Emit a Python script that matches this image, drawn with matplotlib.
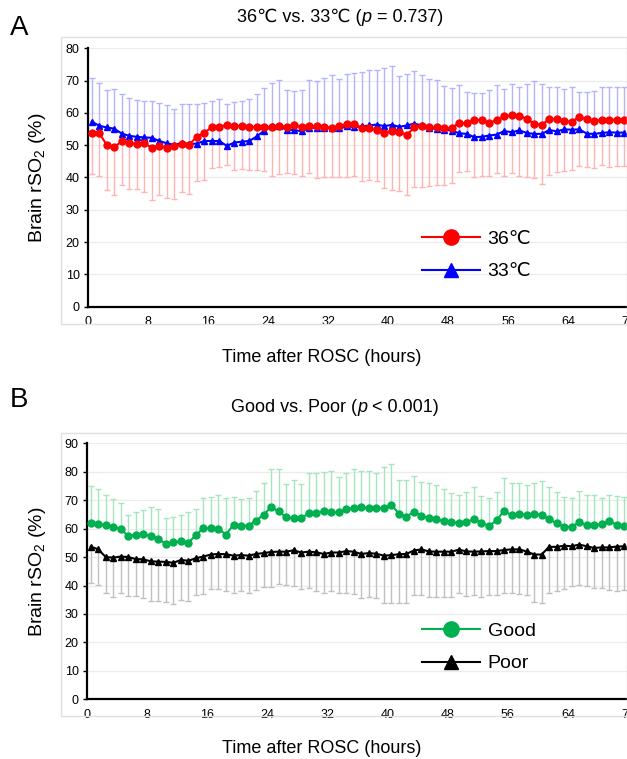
import numpy as np
import matplotlib
matplotlib.use("Agg")
import matplotlib.pyplot as plt
from matplotlib.patches import Rectangle

plt.rcParams['font.family'] = ['Liberation Sans', 'DejaVu Sans']
plt.rcParams['mathtext.fontset'] = 'custom'
plt.rcParams['mathtext.rm'] = 'Liberation Sans'
plt.rcParams['mathtext.it'] = 'Liberation Sans:italic'

# hours after ROSC (one point per hour, centred in each hour)
hours = np.arange(72) + 0.5
xticks = list(range(0, 73, 8))

# ---- Panel A: 36C vs 33C ----
t36_mean = [53.7, 53.7, 50.1, 49.4, 51.2, 50.7, 50.4, 50.6, 49.2, 49.8,
            49.2, 49.6, 50.4, 50.2, 52.6, 53.9, 55.5, 55.7, 56.3, 56.0,
            55.9, 55.5, 55.7, 55.5, 55.7, 55.9, 55.7, 56.2, 55.6, 56.0,
            55.9, 55.7, 55.4, 55.8, 56.6, 56.5, 55.2, 55.2, 54.7, 53.9,
            54.4, 54.1, 53.2, 55.5, 55.9, 55.6, 55.5, 55.2, 55.4, 56.9,
            56.8, 57.9, 57.7, 57.0, 57.7, 59.0, 59.2, 59.0, 58.2, 56.6,
            56.3, 58.1, 58.1, 57.5, 57.2, 58.8, 58.0, 57.5, 57.8, 57.9,
            57.8, 57.8]
t36_low = [41.0, 40.5, 36.0, 34.7, 37.6, 36.5, 36.3, 35.5, 33.1, 34.6,
           33.8, 33.4, 35.4, 34.9, 39.0, 39.1, 42.9, 43.4, 43.8, 42.4,
           42.7, 42.4, 42.4, 42.0, 40.5, 41.1, 41.5, 41.0, 40.6, 41.5,
           39.8, 40.0, 40.3, 40.3, 40.3, 40.6, 39.0, 39.3, 38.8, 36.6,
           36.2, 35.8, 34.6, 37.0, 37.2, 37.4, 37.8, 37.6, 38.2, 41.6,
           41.9, 40.3, 40.6, 40.6, 41.3, 40.6, 41.4, 40.6, 40.3, 39.8,
           38.0, 40.9, 41.6, 42.1, 42.4, 43.7, 43.4, 42.9, 43.9, 43.4,
           43.7, 43.5]
t33_mean = [57.3, 56.0, 55.5, 55.1, 53.6, 52.9, 52.6, 52.4, 52.3, 51.3,
            50.6, 50.1, 50.7, 50.4, 50.5, 51.3, 51.3, 51.3, 49.8, 50.8,
            51.1, 51.3, 52.7, 54.5, 55.8, 55.8, 54.8, 54.7, 54.3, 55.3,
            55.4, 55.3, 55.4, 55.2, 55.8, 55.6, 55.8, 56.1, 56.4, 55.9,
            56.3, 55.7, 56.1, 56.7, 56.1, 55.2, 55.1, 54.8, 54.5, 53.7,
            53.5, 52.5, 52.6, 53.0, 53.3, 54.4, 54.0, 54.6, 53.8, 53.5,
            53.5, 54.7, 54.3, 54.9, 54.8, 54.9, 53.6, 53.5, 53.8, 54.0,
            53.9, 53.9]
t33_high = [70.9, 69.2, 67.2, 67.4, 65.9, 64.6, 64.0, 63.7, 63.7, 63.2,
            62.5, 61.3, 62.7, 62.8, 62.7, 63.2, 63.7, 64.2, 62.9, 63.5,
            63.7, 64.4, 66.0, 67.6, 69.4, 70.1, 67.1, 66.9, 67.2, 70.2,
            70.0, 70.9, 71.6, 70.5, 72.0, 72.2, 72.8, 73.4, 73.2, 73.9,
            74.6, 71.4, 72.1, 73.0, 71.6, 70.6, 70.3, 68.2, 67.7, 68.6,
            66.4, 66.1, 66.2, 67.2, 68.6, 67.4, 68.8, 67.9, 68.8, 69.8,
            69.0, 67.9, 67.9, 67.3, 67.9, 66.4, 66.5, 66.8, 68.1, 68.1,
            68.1, 68.0]

# ---- Panel B: Good vs Poor outcome ----
good_mean = [61.9, 61.6, 61.2, 60.7, 59.8, 57.4, 57.9, 58.0, 57.4, 56.4,
             54.6, 55.2, 55.5, 55.1, 57.7, 60.2, 60.1, 60.0, 57.9, 61.4,
             60.8, 61.1, 62.8, 64.9, 67.5, 66.1, 64.0, 63.6, 63.6, 65.4,
             65.4, 66.3, 65.7, 65.7, 66.9, 67.1, 67.7, 67.1, 67.1, 67.4,
             68.4, 65.3, 64.2, 65.9, 64.5, 63.7, 63.3, 62.6, 62.3, 62.0,
             62.3, 63.3, 62.1, 60.9, 62.9, 66.3, 64.7, 65.1, 64.9, 65.3,
             64.8, 63.3, 61.9, 60.6, 60.6, 62.3, 61.2, 61.2, 61.6, 62.7,
             61.3, 61.0]
good_high = [74.9, 74.1, 72.0, 70.5, 69.0, 64.7, 65.7, 66.6, 67.5, 66.8,
             63.9, 64.1, 64.7, 66.0, 66.8, 70.7, 71.0, 71.8, 70.7, 71.0,
             70.4, 70.7, 73.4, 75.9, 80.9, 81.0, 75.6, 77.1, 75.7, 79.6,
             79.6, 80.0, 80.2, 78.0, 79.6, 80.9, 80.4, 80.2, 79.5, 81.6,
             82.7, 77.0, 77.2, 78.6, 76.4, 76.2, 75.5, 74.1, 72.5, 71.8,
             72.8, 74.8, 71.5, 70.7, 73.0, 77.7, 75.9, 75.9, 75.5, 76.1,
             76.6, 74.8, 73.0, 71.0, 70.7, 73.4, 72.0, 71.7, 70.7, 71.8,
             71.5, 71.0]
poor_mean = [53.7, 52.7, 50.0, 49.8, 50.2, 50.0, 49.3, 49.2, 48.5, 48.4,
             48.3, 48.0, 49.0, 48.7, 49.6, 50.2, 50.9, 51.1, 51.0, 50.5,
             50.7, 50.5, 51.1, 51.4, 51.8, 51.9, 51.9, 52.4, 51.6, 51.9,
             51.7, 51.1, 51.6, 51.6, 52.1, 51.9, 51.1, 51.4, 51.2, 50.5,
             50.7, 51.0, 51.1, 52.3, 52.7, 52.0, 51.9, 51.9, 51.9, 52.6,
             52.0, 51.9, 52.0, 52.1, 52.1, 52.5, 52.7, 52.7, 52.0, 50.9,
             50.9, 53.6, 53.6, 54.0, 53.8, 54.4, 53.8, 53.2, 53.4, 53.4,
             53.7, 53.8]
poor_low = [40.8, 40.2, 37.5, 36.1, 37.3, 36.4, 36.4, 35.7, 34.6, 34.7,
            34.1, 33.6, 35.0, 34.6, 36.7, 36.9, 38.8, 38.8, 38.1, 37.5,
            37.9, 37.4, 38.3, 39.4, 39.4, 40.4, 40.1, 39.8, 38.7, 39.0,
            37.9, 37.5, 37.9, 37.3, 37.3, 37.0, 35.5, 35.9, 35.5, 34.0,
            33.7, 34.0, 34.0, 36.7, 36.7, 36.1, 36.1, 36.1, 36.1, 37.5,
            36.3, 36.7, 36.1, 36.7, 36.7, 37.5, 37.5, 36.9, 36.7, 34.3,
            34.0, 37.5, 37.9, 38.8, 39.8, 40.2, 40.0, 39.0, 39.0, 38.4,
            38.2, 38.5]

W, H = 627, 759
fig = plt.figure(figsize=(W / 100, H / 100), dpi=100)
renderer = fig.canvas.get_renderer()


def px(x0, y0, x1, y1):
    # pixel box (top-left origin) -> figure fraction rect
    return [x0 / W, 1 - y1 / H, (x1 - x0) / W, (y1 - y0) / H]


def bars(ax, mean, end, color):
    ax.vlines(hours, mean, end, color=color, lw=1.0, zorder=2)
    ax.plot(hours, end, ls='none', marker='_', ms=4, mew=1.0, color=color, zorder=2)


def setup(ax, ymax, step):
    ax.set_xlim(0, 72)
    ax.set_ylim(0, ymax)
    ax.set_xticks(xticks)
    ax.set_yticks(np.arange(0, ymax + 1, step))
    ax.tick_params(axis='x', length=0, labelsize=9, pad=7)
    ax.tick_params(axis='y', length=3, width=1, labelsize=9, pad=3)
    for s in ['top', 'right']:
        ax.spines[s].set_visible(False)
    for s in ['left', 'bottom']:
        ax.spines[s].set_linewidth(1.6)
    ax.grid(axis='y', color='#ececec', lw=0.9)
    ax.set_axisbelow(True)
    ax.set_ylabel(r'Brain rSO$_2$ (%)', fontsize=14)
    ax.set_xlabel('Time after ROSC (hours)', fontsize=13)


def title(xc, y, parts, size=13):
    # title made of pieces so the italic p and the ℃ glyph both render
    texts = []
    for s, st in parts:
        texts.append(fig.text(0, 1 - y / H, s, fontsize=size, style=st, va='center', ha='left'))
    widths = [t.get_window_extent(renderer).width for t in texts]
    x = xc - sum(widths) / 2
    for t, w in zip(texts, widths):
        t.set_x(x / W)
        x += w


def legend(ax, top):
    ax.legend(loc='upper left', bbox_to_anchor=(404 / W, 1 - top / H), bbox_transform=fig.transFigure,
              frameon=False, fontsize=14, handlelength=3.0, labelspacing=0.75, markerscale=2.2,
              handletextpad=0.4)


# chart area borders
fig.patches.append(Rectangle((61 / W, 1 - 324 / H), 566 / W, 287 / H, transform=fig.transFigure,
                             fill=False, ec='#e0e0e0', lw=1))
fig.patches.append(Rectangle((61 / W, 1 - 716 / H), 566 / W, 283 / H, transform=fig.transFigure,
                             fill=False, ec='#e0e0e0', lw=1))

# ---- A ----
axA = fig.add_axes(px(88, 48.3, 628, 306.7))
setup(axA, 80, 10)
bars(axA, t36_mean, t36_low, '#ffb3b3')
bars(axA, t33_mean, t33_high, '#b3b3ff')
axA.plot(hours, t36_mean, color='#ff0000', lw=1.5, marker='o', ms=5, zorder=4, label='36℃')
axA.plot(hours, t33_mean, color='#0000ff', lw=1.5, marker='^', ms=4.5, zorder=3, label='33℃')
axA.yaxis.set_label_coords(-0.074, 0.5)
axA.xaxis.set_label_coords(0.433, -0.165)
legend(axA, 213)
title(340, 17, [('36℃ vs. 33℃ (', 'normal'), ('p', 'italic'), (' = 0.737)', 'normal')])
fig.text(10 / W, 1 - 28 / H, 'A', ha='left', va='center', fontsize=20)

# ---- B ----
axB = fig.add_axes(px(87, 443.3, 628, 699.3))
setup(axB, 90, 10)
bars(axB, good_mean, good_high, '#a6e6bf')
bars(axB, poor_mean, poor_low, '#c0c0c0')
axB.plot(hours, good_mean, color='#00b050', lw=1.5, marker='o', ms=5, zorder=4, label='Good')
axB.plot(hours, poor_mean, color='#000000', lw=1.5, marker='^', ms=4.5, zorder=3, label='Poor')
axB.yaxis.set_label_coords(-0.072, 0.5)
axB.xaxis.set_label_coords(0.433, -0.16)
legend(axB, 605)
title(335, 407, [('Good vs. Poor (', 'normal'), ('p', 'italic'), (' < 0.001)', 'normal')])
fig.text(10 / W, 1 - 400 / H, 'B', ha='left', va='center', fontsize=20)

fig.savefig('out.png', dpi=100)
